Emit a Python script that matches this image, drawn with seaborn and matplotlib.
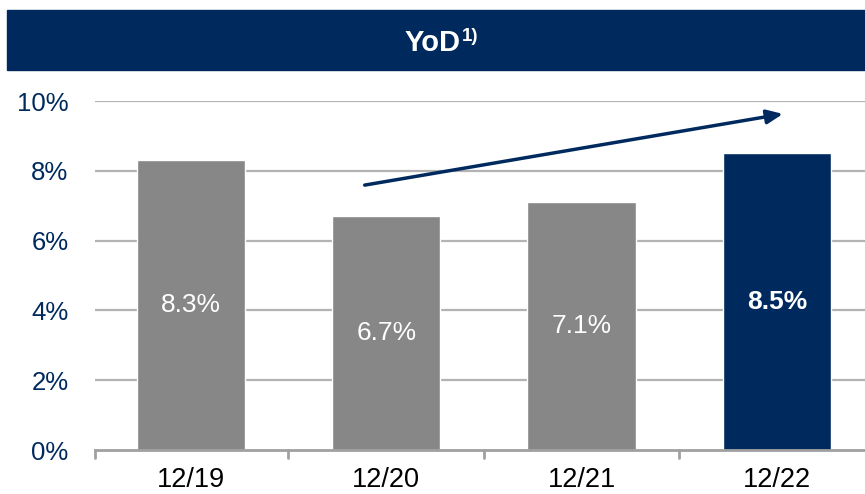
import matplotlib
matplotlib.use("Agg")
import matplotlib.pyplot as plt
import seaborn as sns
import pandas as pd
from matplotlib.patches import Rectangle

categories = ["12/19", "12/20", "12/21", "12/22"]
values = [8.3, 6.7, 7.1, 8.5]
labels = ["8.3%", "6.7%", "7.1%", "8.5%"]
yticks = [0, 2, 4, 6, 8, 10]
ytick_labels = ["0%", "2%", "4%", "6%", "8%", "10%"]

NAVY = "#002a5e"
GRAY = "#878787"
colors = [GRAY, GRAY, GRAY, NAVY]

sns.set_theme(style="white")
plt.rcParams['font.family'] = ['Liberation Sans', 'DejaVu Sans']

df = pd.DataFrame({"cat": categories, "val": values})

fig = plt.figure(figsize=(8.65, 4.94), dpi=100)
W, H = 865, 494
ax = fig.add_axes([95 / W, (H - 450) / H, 1 - 95 / W, (450 - 101) / H])

sns.barplot(data=df, x="cat", y="val", hue="cat", palette=colors, width=0.555,
            legend=False, ax=ax, zorder=3, saturation=1)

ax.set_xlim(-0.49, 3.45)
ax.set_ylim(0, 10)
ax.set_yticks(yticks)
ax.set_yticklabels(ytick_labels, color=NAVY, fontsize=18.5)
ax.set_xlabel("")
ax.set_ylabel("")
ax.tick_params(axis="x", labelsize=19.5, labelcolor="black", length=0, pad=12)
ax.tick_params(axis="y", length=0, pad=19)
for lab in ax.get_yticklabels():
    lab.set_horizontalalignment("right")

for y in yticks[1:]:
    ax.axhline(y, color="#b3b3b3", lw=1.6, zorder=1)

for s in ["top", "right", "left"]:
    ax.spines[s].set_visible(False)
ax.spines["bottom"].set_color("#a0a0a0")
ax.spines["bottom"].set_linewidth(2)
ax.spines["bottom"].set_zorder(4)

# category boundary ticks
for xb in [-0.49, 0.5, 1.5, 2.5]:
    ax.plot([xb, xb], [0, -0.22], color="#a0a0a0", lw=2, clip_on=False, zorder=4)

for i, (v, lab) in enumerate(zip(values, labels)):
    last = i == len(values) - 1
    ax.text(i, v / 2, lab, ha="center", va="center", color="white",
            fontsize=19, fontweight="bold" if last else "normal", zorder=5)

ax.annotate("", xy=(3.03, 9.63), xytext=(0.89, 7.59),
            arrowprops=dict(arrowstyle="-|>,head_length=0.8,head_width=0.35",
                            color=NAVY, lw=2.5, shrinkA=0, shrinkB=0),
            zorder=6)

# title bar
fig.patches.append(Rectangle((7 / W, (H - 70) / H), 1 - 7 / W, 60 / H,
                             transform=fig.transFigure, color=NAVY, zorder=0))
fig.text(461 / W, (H - 51) / H, "YoD", ha="right", va="baseline",
         color="white", fontsize=21, fontweight="bold")
fig.text(462 / W, (H - 41) / H, "1)", ha="left", va="baseline",
         color="white", fontsize=13.5, fontweight="bold")

fig.savefig("out.png", dpi=100)
